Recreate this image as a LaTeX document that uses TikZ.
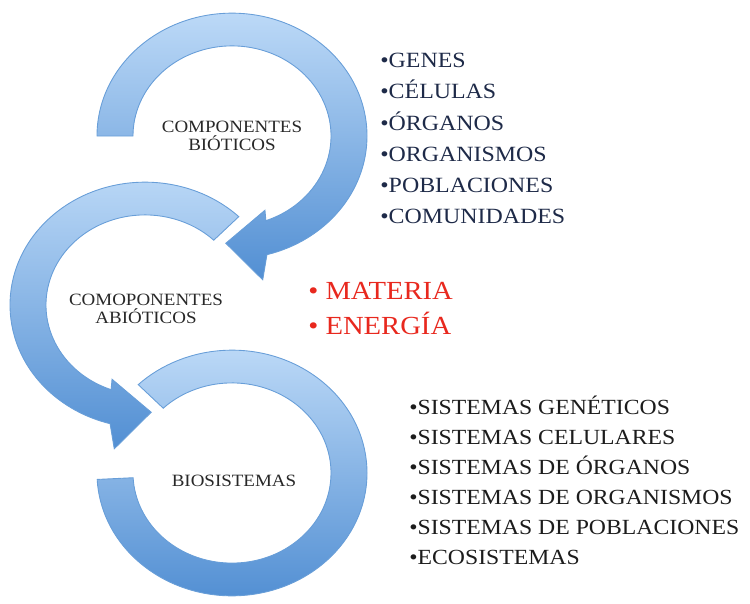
\documentclass[tikz,border=0pt]{standalone}
\usepackage{fontspec}
\setmainfont{Liberation Serif}
\definecolor{arctop}{RGB}{188,217,247}
\definecolor{arcbottom}{RGB}{82,143,211}
\definecolor{arcline}{RGB}{104,158,216}
\definecolor{stagetext}{RGB}{40,40,40}
\definecolor{listnavy}{RGB}{30,42,72}
\definecolor{listblack}{RGB}{28,28,28}
\definecolor{flowred}{RGB}{232,40,30}
\begin{document}
\begin{tikzpicture}[x=0.02cm,y=0.02cm]
    \tikzstyle{bluearc}=[draw=arcline,line width=0.5pt,top color=arctop,bottom color=arcbottom]
    \tikzstyle{stage}=[yscale=0.91,align=center,text=stagetext,font=\fontsize{10.8}{11.6}\selectfont]
    \tikzstyle{items}=[yscale=0.91,align=left,anchor=west,inner sep=0pt]
    \useasboundingbox (0,0) rectangle (750,603);
    \coordinate (c1) at (232,467);
    \coordinate (c2) at (145,298);
    \coordinate (c3) at (232,130);
    \begin{scope}[shift={(c1)},yscale=0.91]
        \path[bluearc] (180:135) arc[start angle=180,end angle=-75,radius=135]
            -- (-79:161) -- (-93:118) -- (-68:88) -- (-70:99)
            arc[start angle=-70,end angle=180,radius=99] -- cycle;
    \end{scope}
    \begin{scope}[shift={(c2)},yscale=0.91]
        \path[bluearc] (46:135) arc[start angle=46,end angle=255,radius=135]
            -- (259:161) -- (273:118) -- (248:88) -- (250:99)
            arc[start angle=250,end angle=46,radius=99] -- cycle;
    \end{scope}
    \begin{scope}[shift={(c3)},yscale=0.91]
        \path[bluearc] (183:135) arc[start angle=183,end angle=494,radius=135]
            -- (494:99) arc[start angle=494,end angle=183,radius=99] -- cycle;
    \end{scope}
    \node[stage] (biotic) at (232,467) {COMPONENTES\\BIÓTICOS};
    \node[stage] (abiotic) at (146,294) {COMOPONENTES\\ABIÓTICOS};
    \node[stage] (biosys) at (234,122) {BIOSISTEMAS};
    \node[items,text=listnavy,font=\fontsize{13.6}{19.5}\selectfont] (levels) at (380,464.5)
        {•GENES\\•CÉLULAS\\•ÓRGANOS\\•ORGANISMOS\\•POBLACIONES\\•COMUNIDADES};
    \node[items,text=flowred,font=\fontsize{16.3}{21.8}\selectfont] (flows) at (308,294.5)
        {• MATERIA\\• ENERGÍA};
    \node[items,text=listblack,font=\fontsize{13.5}{18.8}\selectfont] (systems) at (409,122.5)
        {•SISTEMAS GENÉTICOS\\•SISTEMAS CELULARES\\•SISTEMAS DE ÓRGANOS\\•SISTEMAS DE ORGANISMOS\\•SISTEMAS DE POBLACIONES\\•ECOSISTEMAS};
\end{tikzpicture}
\end{document}
